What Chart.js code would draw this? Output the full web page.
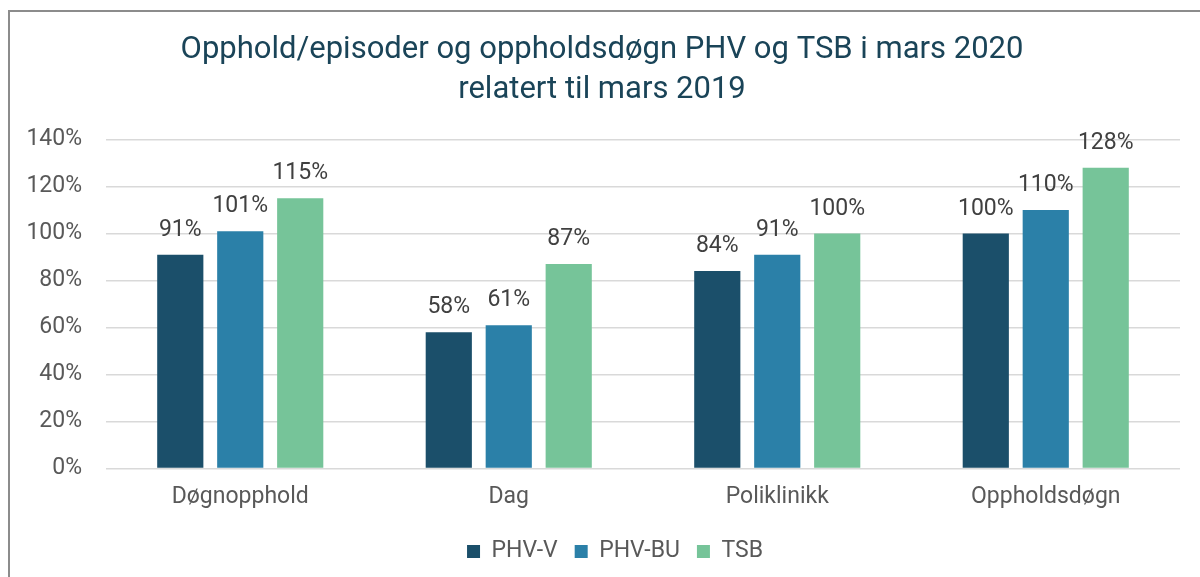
<!DOCTYPE html>
<html lang="no">
<head>
<meta charset="UTF-8">
<title>Opphold/episoder og oppholdsdøgn</title>
<script src="https://cdn.jsdelivr.net/npm/chart.js@4.4.1/dist/chart.umd.min.js"></script>
<style>
  html, body { margin: 0; padding: 0; background: #fff; }
  #wrap { position: relative; width: 1200px; height: 577px; overflow: hidden; }
  #frame { position: absolute; left: 8px; top: 10px; width: 1300px; height: 700px;
           border-left: 2px solid #8c8c8c; border-top: 2px solid #8c8c8c; }
  #chartBox { position: absolute; left: 0; top: 0; width: 1200px; height: 577px; }
</style>
</head>
<body>
<div id="wrap">
  <div id="frame"></div>
  <div id="chartBox"><canvas id="myChart"></canvas></div>
</div>
<script>
    const categories = ['Døgnopphold', 'Dag', 'Poliklinikk', 'Oppholdsdøgn'];
    const phvV  = [91, 58, 84, 100];
    const phvBU = [101, 61, 91, 110];
    const tsb   = [115, 87, 100, 128];
    const seriesNames = ['PHV-V', 'PHV-BU', 'TSB'];
    const yTicks = [0, 20, 40, 60, 80, 100, 120, 140];

    // draws the value above each bar, using the bar element positions
    const valueLabels = {
        id: 'valueLabels',
        afterDatasetsDraw(chart) {
            const ctx = chart.ctx;
            ctx.save();
            ctx.font = '23px Roboto';
            ctx.fillStyle = '#404040';
            ctx.textAlign = 'center';
            ctx.textBaseline = 'alphabetic';
            chart.data.datasets.forEach((ds, i) => {
                chart.getDatasetMeta(i).data.forEach((bar, j) => {
                    ctx.fillText(Math.round(ds.data[j]) + '%', bar.x, bar.y - 19);
                });
            });
            ctx.restore();
        }
    };

    // the legend sits a bit right of centre in the original
    const legendShift = {
        id: 'legendShift',
        afterLayout(chart) {
            chart.legend.left += 13;
            chart.legend.right += 13;
        }
    };

    const ctx = document.getElementById('myChart').getContext('2d');
    const myChart = new Chart(ctx, {
        type: 'bar',
        data: {
            labels: categories,
            datasets: [
                { label: seriesNames[0], data: phvV,  backgroundColor: '#1b4f6a' },
                { label: seriesNames[1], data: phvBU, backgroundColor: '#2b80a8' },
                { label: seriesNames[2], data: tsb,   backgroundColor: '#76c499' }
            ]
        },
        options: {
            responsive: true,
            maintainAspectRatio: false,
            animation: false,
            layout: { padding: { left: 24, right: 20, top: 30, bottom: 4 } },
            datasets: { bar: { categoryPercentage: 0.67, barPercentage: 0.77 } },
            plugins: {
                title: {
                    display: true,
                    text: ['Opphold/episoder og oppholdsdøgn PHV og TSB i mars 2020', 'relatert til mars 2019'],
                    color: '#1a4458',
                    font: { family: 'Roboto', size: 31, weight: 'normal', lineHeight: 1.3 },
                    padding: { top: 0, bottom: 29 }
                },
                legend: {
                    position: 'bottom',
                    labels: {
                        color: '#595959',
                        font: { family: 'Roboto', size: 23 },
                        boxWidth: 13,
                        boxHeight: 13,
                        padding: 17
                    }
                },
                tooltip: { enabled: false }
            },
            scales: {
                x: {
                    afterFit: axis => { axis.height += 5; },
                    grid: { display: false },
                    border: { display: false },
                    ticks: { color: '#595959', font: { family: 'Roboto', size: 23 }, padding: 7 }
                },
                y: {
                    min: 0,
                    max: 140,
                    afterBuildTicks: axis => { axis.ticks = yTicks.map(v => ({ value: v })); },
                    afterFit: axis => { axis.width = 82; },
                    grid: { color: '#d9d9d9', lineWidth: 1.5, drawTicks: false },
                    border: { display: false },
                    ticks: {
                        color: '#595959',
                        font: { family: 'Roboto', size: 23 },
                        padding: 24,
                        callback: v => v + '%'
                    }
                }
            }
        },
        plugins: [valueLabels, legendShift]
    });
</script>
</body>
</html>
